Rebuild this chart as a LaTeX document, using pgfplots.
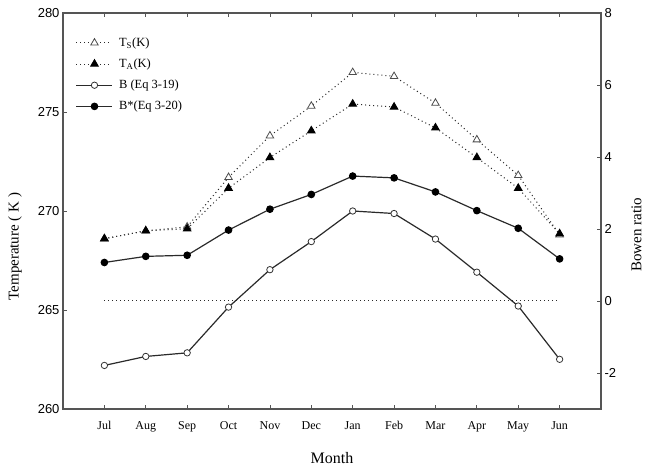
\documentclass[border=0pt]{standalone}
\usepackage{pgfplots}
\pgfplotsset{compat=1.18}
\usepackage{fontspec}
\setmainfont{Liberation Serif}
\newfontfamily\sansf{Liberation Sans}
\definecolor{frame}{HTML}{555555}
\definecolor{ln}{HTML}{2a2a2a}
\begin{document}
\begin{tikzpicture}
\path[use as bounding box] (-63pt,-59pt) rectangle (587pt,409pt);
\pgfplotsset{
 base/.style={scale only axis, width=538pt, height=396pt, xmin=-1, xmax=12,
  axis line style={frame, line width=1.2pt},
  tick style={frame, line width=0.8pt}, tick align=inside, major tick length=4pt,
  y tick label style={font=\sansf\fontsize{13}{13}\selectfont, /pgf/number format/assume math mode=true},
  legend image code/.code={\draw[mark repeat=2,mark phase=2,##1] plot coordinates {(0pt,0pt)(18pt,0pt)(36pt,0pt)};},
 },
 tdot/.style={ln, line width=1pt, dash pattern=on 1pt off 3pt},
}
\begin{axis}[base, ymin=260, ymax=280, ytick={260,265,...,280}, ytick pos=left,
  xtick={0,...,11}, xticklabels={Jul,Aug,Sep,Oct,Nov,Dec,Jan,Feb,Mar,Apr,May,Jun},
  xtick pos=both, x tick label style={font=\fontsize{12}{12}\selectfont, yshift=-9pt},
  ylabel={Temperature ( K )}, ylabel style={at={(axis description cs:-0.089,0.41)}, anchor=center, font=\fontsize{15}{15}\selectfont},
  xlabel={Month}, xlabel style={at={(axis description cs:0.5,-0.125)}, anchor=center, font=\fontsize{16}{16}\selectfont}]
\addplot[tdot, mark=triangle*, mark size=4.3pt, mark options={solid, draw=black!70, fill=white, line width=0.8pt}] coordinates {
(0,268.6)(1,269.0)(2,269.2)(3,271.7)(4,273.8)(5,275.3)(6,277.0)(7,276.8)(8,275.45)(9,273.6)(10,271.8)(11,268.8)};
\addplot[tdot, mark=triangle*, mark size=4.3pt, mark options={solid, black}] coordinates {
(0,268.6)(1,269.0)(2,269.1)(3,271.15)(4,272.7)(5,274.05)(6,275.4)(7,275.25)(8,274.2)(9,272.7)(10,271.15)(11,268.85)};
\end{axis}
\begin{axis}[base, ymin=-3, ymax=8, ytick={-2,0,...,8}, ytick pos=right, hide x axis,
  ylabel={Bowen ratio}, ylabel style={at={(axis description cs:1.066,0.44)}, anchor=center, rotate=0, font=\fontsize{15}{15}\selectfont},
  legend style={at={(axis description cs:0.018,0.948)}, anchor=north west, draw=none, fill=none, font=\fontsize{12.5}{12.5}\selectfont, row sep=7pt, column sep=4pt},
  legend cell align=left]
\addlegendimage{tdot, mark=triangle*, mark size=4.3pt, mark options={solid, draw=black!70, fill=white, line width=0.8pt}}
\addlegendentry{T\textsubscript{S}(K)}
\addlegendimage{tdot, mark=triangle*, mark size=4.3pt, mark options={solid, black}}
\addlegendentry{T\textsubscript{A}(K)}
\addplot[tdot, forget plot] coordinates {(0,0)(11,0)};
\addplot[ln, line width=1.2pt, mark=*, mark size=3.2pt, mark options={draw=black!80, fill=white, line width=0.8pt}] coordinates {
(0,-1.79)(1,-1.54)(2,-1.44)(3,-0.17)(4,0.87)(5,1.65)(6,2.50)(7,2.43)(8,1.72)(9,0.80)(10,-0.14)(11,-1.62)};
\addlegendentry{B (Eq 3-19)}
\addplot[ln, line width=1.2pt, mark=*, mark size=3.2pt, mark options={black}] coordinates {
(0,1.07)(1,1.24)(2,1.27)(3,1.97)(4,2.55)(5,2.96)(6,3.47)(7,3.42)(8,3.03)(9,2.51)(10,2.02)(11,1.17)};
\addlegendentry{B*(Eq 3-20)}
\end{axis}
\end{tikzpicture}
\end{document}
